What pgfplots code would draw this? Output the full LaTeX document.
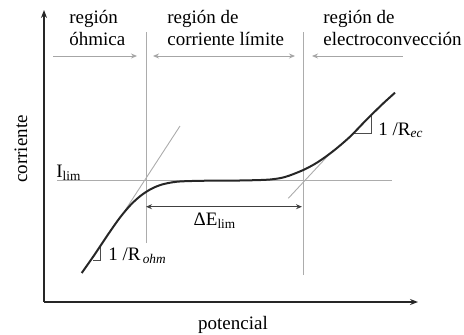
\documentclass[border=0pt]{standalone}
\usepackage{pgfplots}
\pgfplotsset{compat=1.18}
\usepackage{fontspec}
\setmainfont{Liberation Serif}
\usetikzlibrary{arrows.meta}
\begin{document}
\begin{tikzpicture}[font=\fontsize{9.5}{11}\selectfont]
\begin{axis}[x=0.5pt,y=0.5pt,
  xmin=44,xmax=418,ymin=32,ymax=324,
  axis lines=left, xtick=\empty, ytick=\empty, clip=false,
  axis line style={line width=0.8pt, black!85},
  every outer x axis line/.append style={-{Stealth[length=4pt,width=3pt]}},
  every outer y axis line/.append style={-{Stealth[length=4pt,width=3pt]}},
  gl/.style={gray!65, line width=0.45pt},
  ar/.style={gray!70, line width=0.45pt},
]
\path (axis cs:0,0) rectangle (axis cs:464,334);
% vertical separators
\addplot[gl] coordinates {(146,91) (146,302)};
\addplot[gl] coordinates {(303,59) (303,302)};
% region arrows
\addplot[ar, -{Stealth[length=3pt,width=2.5pt]}] coordinates {(53,278) (137,278)};
\addplot[ar, {Stealth[length=3pt,width=2.5pt]}-{Stealth[length=3pt,width=2.5pt]}] coordinates {(153,278) (295,278)};
\addplot[ar, {Stealth[length=3pt,width=2.5pt]}-] coordinates {(312,278) (403,278)};
% I_lim line
\addplot[gl] coordinates {(57,154) (392,154)};
% Delta E arrow
\addplot[black!75, line width=0.45pt, {Stealth[length=3pt,width=2.5pt]}-{Stealth[length=3pt,width=2.5pt]}] coordinates {(146,127.3) (302,127.3)};
% tangents
\addplot[gl] coordinates {(124,122) (180,208)};
\addplot[gl] coordinates {(288.3,135.7) (333.3,184)};
% slope triangles
\addplot[black!70, line width=0.45pt] coordinates {(93,74) (100.5,74) (100.5,88)};
\addplot[black!70, line width=0.45pt] coordinates {(353.3,200.7) (371.7,200.7) (371.7,219)};
% curve
\addplot[smooth, line width=1pt, black!85] coordinates {
(81.7,61) (95,80) (108,99.5) (120,116.5) (131,129.5) (141,138.5) (151,145)
(162,149.5) (177,152.3) (200,153.2) (230,153.4) (250,153.7) (270,154.5)
(285,157) (303.3,164) (318,172) (333.3,183) (350,197.3)
(366.7,214.5) (383.3,230.7) (395,241.3)};
% texts
\node[anchor=base west, inner sep=0] at (axis cs:69,311) {región};
\node[anchor=base west, inner sep=0] at (axis cs:69,289) {óhmica};
\node[anchor=base west, inner sep=0] at (axis cs:167,311) {región de};
\node[anchor=base west, inner sep=0] at (axis cs:167,289) {corriente límite};
\node[anchor=base west, inner sep=0] at (axis cs:323,311) {región de};
\node[anchor=base west, inner sep=0] at (axis cs:323,289) {electroconvección};
\node[anchor=base west, inner sep=0] at (axis cs:56,157) {I\textsubscript{lim}};
\node[anchor=base, inner sep=0] at (axis cs:215,109) {ΔE\textsubscript{lim}};
\node[anchor=base west, inner sep=0] at (axis cs:108,74) {1 /R\textsubscript{\,\textit{ohm}}};
\node[anchor=base west, inner sep=0] at (axis cs:378,199) {1 /R\textsubscript{\textit{ec}}};
\node[rotate=90, anchor=base, inner sep=0] at (axis cs:27,185) {corriente};
\node[anchor=base, inner sep=0] at (axis cs:233,5) {potencial};
\end{axis}
\end{tikzpicture}
\end{document}
